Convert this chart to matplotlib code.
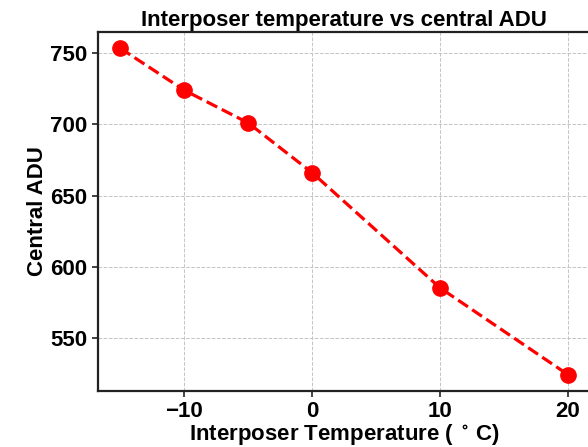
import numpy as np
import matplotlib
matplotlib.use('Agg')
import matplotlib.pyplot as plt
from matplotlib.ticker import MultipleLocator

# Data
temperature = [-15, -10, -5, 0, 10, 20]
central_adu = [753.5, 724, 701, 666, 585, 524]

plt.rcParams['font.family'] = ['Liberation Sans', 'DejaVu Sans']
plt.rcParams['font.weight'] = 'bold'
plt.rcParams['mathtext.default'] = 'regular'

fig = plt.figure(figsize=(5.88, 4.47), dpi=100)
W, H = 588, 447
ax = fig.add_axes([98 / W, (H - 391) / H, (590.4 - 98) / W, (391 - 32) / H])

ax.plot(temperature, central_adu, 'r--', lw=2.3, marker='o', markersize=11)

ax.set_title('Interposer temperature vs central ADU', fontsize=16, fontweight='bold', pad=4)
ax.set_xlabel('Interposer Temperature ( $^\\circ\\,$C)', fontsize=16, fontweight='bold', labelpad=0)
ax.set_ylabel('Central ADU', fontsize=16, fontweight='bold', labelpad=2)
ax.xaxis.set_major_locator(MultipleLocator(10))
ax.tick_params(labelsize=16, width=1.2, length=4, color='#222222')
for lab in ax.get_xticklabels() + ax.get_yticklabels():
    lab.set_fontweight('bold')
for s in ax.spines.values():
    s.set_linewidth(1.6)
    s.set_color('#222222')
ax.grid(True, linestyle='--', color='#c4c4c4', linewidth=0.7)
ax.set_axisbelow(True)

fig.savefig('out.png', dpi=100)
